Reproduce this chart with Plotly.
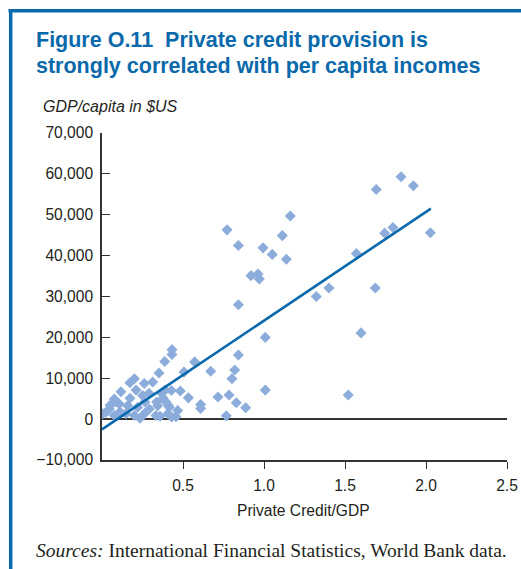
import plotly.graph_objects as go

# Private credit / GDP (x) and GDP per capita in US$ (y)
credit_gdp = [
    1.846, 1.693, 1.922, 0.772, 1.162, 1.113, 0.842, 0.994, 1.051, 1.138,
    1.745, 1.796, 2.027, 1.570, 0.920, 0.963, 0.971, 0.842, 1.323, 1.401,
    1.687, 1.599, 1.008, 0.842, 1.520, 1.008,
    0.432, 0.432, 0.387, 0.572, 0.352, 0.506, 0.671, 0.819, 0.802, 0.313,
    0.428, 0.483, 0.533, 0.716, 0.784, 0.829, 0.887, 0.609, 0.609, 0.767,
    0.200, 0.172, 0.261, 0.117, 0.210, 0.290, 0.389, 0.368, 0.173, 0.076,
    0.251, 0.265, 0.337, 0.378, 0.395,
    0.045, 0.107, 0.159, 0.220, 0.292, 0.344, 0.415, 0.467, 0.004, 0.025,
    0.076, 0.148, 0.200, 0.261, 0.333, 0.406, 0.457, 0.235, 0.358, 0.111,
    0.050, 0.080, 0.430, 0.409,
]
gdp_per_capita = [
    59300, 56200, 57100, 46300, 49700, 44900, 42500, 41900, 40300, 39100,
    45500, 46900, 45600, 40500, 35100, 35500, 34300, 28000, 30000, 32100,
    32100, 21100, 20000, 15700, 5900, 7100,
    17000, 15800, 14100, 14000, 11300, 11500, 11700, 12000, 9900, 9100,
    7000, 6900, 5200, 5400, 5900, 4000, 2800, 3600, 2600, 800,
    9900, 8900, 8700, 6700, 7100, 6300, 7100, 6300, 5100, 4900,
    5800, 4200, 4200, 5100, 4200,
    2500, 3700, 3300, 2900, 2500, 3300, 2900, 2100, 1300, 1700,
    900, 1300, 900, 1300, 900, 1300, 600, 200, 700, 1800,
    3400, 4200, 500, 3400,
]

# fitted line end points
fit_x = [0.0, 2.03]
fit_y = [-2500, 51500]

x_tick_vals = [0.5, 1.0, 1.5, 2.0, 2.5]
x_tick_text = ["0.5", "1.0", "1.5", "2.0", "2.5"]
y_tick_vals = [-10000, 0, 10000, 20000, 30000, 40000, 50000, 60000, 70000]

BLUE = "#0a69ab"
MARK = "#8caddb"
AX = "#333333"
TXT = "#231f20"
SANS = "Liberation Sans, Arial, sans-serif"
SERIF = "Liberation Serif, Times New Roman, serif"

fig = go.Figure()
fig.add_trace(go.Scatter(
    x=credit_gdp, y=gdp_per_capita, mode="markers",
    marker=dict(symbol="diamond", size=8.5, color=MARK, line=dict(width=0)),
    hoverinfo="x+y", showlegend=False,
))
fig.add_trace(go.Scatter(
    x=fit_x, y=fit_y, mode="lines",
    line=dict(color=BLUE, width=2.6), showlegend=False, hoverinfo="skip",
))

W, H = 521, 569
L, T = 102, 133
R = W - 507
B = H - 460
pw, ph = W - L - R, H - T - B

def px(x):  # x in page pixels
    return (x - L) / pw

def py(y):  # y in page pixels
    return (H - B - y) / ph

FS = 15.6

fig.update_layout(
    width=W, height=H, autosize=False,
    margin=dict(l=L, r=R, t=T, b=B, autoexpand=False),
    paper_bgcolor="white", plot_bgcolor="white",
    font=dict(family=SANS, size=FS, color=TXT),
    xaxis=dict(
        range=[0, 2.5], tickvals=x_tick_vals, ticktext=x_tick_text,
        automargin=False,
        showgrid=False, zeroline=False, showline=True, linecolor=AX, linewidth=1.5,
        ticks="outside", ticklen=7, tickcolor=AX, tickwidth=1.2,
        tickfont=dict(size=FS, color=TXT), ticklabelstandoff=4,
    ),
    yaxis=dict(
        range=[-10000, 70000], tickvals=y_tick_vals, tickformat=",d",
        automargin=False,
        showgrid=False, zeroline=True, zerolinecolor=AX, zerolinewidth=1.5,
        showline=True, linecolor=AX, linewidth=1.5,
        ticks="inside", ticklen=8, tickcolor=AX, tickwidth=1.2,
        tickfont=dict(size=FS, color=TXT), ticklabelstandoff=4,
    ),
    shapes=[
        dict(type="line", xref="paper", yref="paper",
             x0=px(8.5), x1=px(530), y0=py(10.7), y1=py(10.7),
             line=dict(color=BLUE, width=3.5)),
        dict(type="line", xref="paper", yref="paper",
             x0=px(10.7), x1=px(10.7), y0=py(9), y1=py(580),
             line=dict(color=BLUE, width=3.5)),
    ],
    annotations=[
        dict(text="<b>Figure O.11  Private credit provision is</b>",
             xref="paper", yref="paper", x=px(34), y=py(40),
             xanchor="left", yanchor="middle", showarrow=False,
             font=dict(family=SANS, size=21.5, color=BLUE)),
        dict(text="<b>strongly correlated with per capita incomes</b>",
             xref="paper", yref="paper", x=px(34), y=py(66),
             xanchor="left", yanchor="middle", showarrow=False,
             font=dict(family=SANS, size=21.5, color=BLUE)),
        dict(text="<i>GDP/capita in $US</i>",
             xref="paper", yref="paper", x=px(41), y=py(106),
             xanchor="left", yanchor="middle", showarrow=False,
             font=dict(family=SANS, size=16, color=TXT)),
        dict(text="Private Credit/GDP",
             xref="paper", yref="paper", x=px(303), y=py(510),
             xanchor="center", yanchor="middle", showarrow=False,
             font=dict(family=SANS, size=FS, color=TXT)),
        dict(text="<i>Sources:</i> International Financial Statistics, World Bank data.",
             xref="paper", yref="paper", x=px(34), y=py(550),
             xanchor="left", yanchor="middle", showarrow=False,
             font=dict(family=SERIF, size=19.5, color=TXT)),
    ],
)

fig.write_html(
    "out.html",
    config={"displayModeBar": False},
    post_script="document.body.style.margin='0';document.body.style.overflow='hidden';",
)
